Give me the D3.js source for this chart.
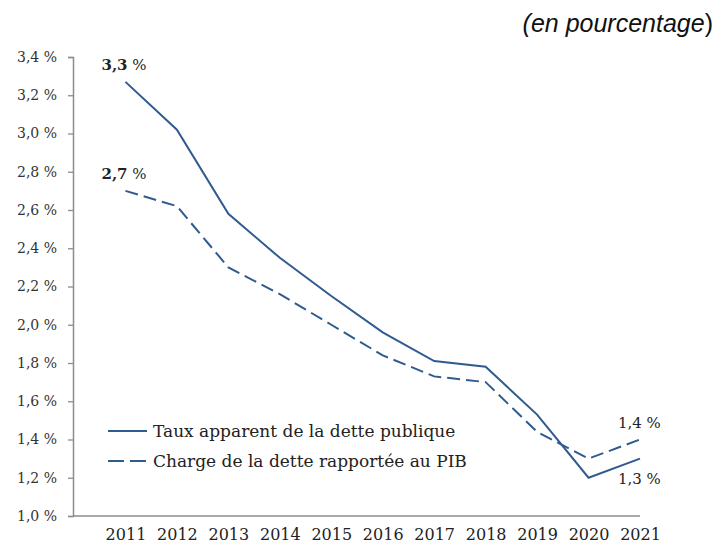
<!DOCTYPE html>
<html>
<head>
<meta charset="utf-8">
<script src="https://cdn.jsdelivr.net/npm/d3@7"></script>
<style>
  body { margin: 0; background: #fff; }
  svg { display: block; }
</style>
</head>
<body>
<div id="chart"></div>
<script>
var w = 716,
  h = 545;

var years = [2011, 2012, 2013, 2014, 2015, 2016, 2017, 2018, 2019, 2020, 2021];
var taux = [3.27, 3.02, 2.58, 2.35, 2.15, 1.96, 1.81, 1.78, 1.53, 1.20, 1.30];
var charge = [2.70, 2.62, 2.30, 2.16, 2.00, 1.84, 1.73, 1.70, 1.44, 1.30, 1.40];
var yTicks = [1.0, 1.2, 1.4, 1.6, 1.8, 2.0, 2.2, 2.4, 2.6, 2.8, 3.0, 3.2, 3.4];
var seriesNames = ["Taux apparent de la dette publique", "Charge de la dette rapportée au PIB"];

var blue = "#2f5b8e";
var serif = "'DejaVu Serif', 'Liberation Serif', serif";

function fmt(v) {
  return v.toFixed(1).replace(".", ",") + " %";
}

var svg = d3.select("#chart").append("svg").attr("width", w).attr("height", h);

var x = d3.scaleLinear().domain([2010, 2021]).range([74, 640]);
var y = d3.scaleLinear().domain([1.0, 3.4]).range([516, 57]);

// y axis
var yAxis = svg.append("g")
  .attr("transform", "translate(73,0)")
  .call(d3.axisLeft(y).tickValues(yTicks).tickSize(5).tickPadding(11).tickFormat(fmt));
yAxis.select(".domain").attr("stroke", "#8c8c8c").attr("stroke-width", 1.5);
yAxis.selectAll(".tick line").attr("stroke", "#8c8c8c").attr("stroke-width", 1.3);
yAxis.selectAll(".tick text").style("font-family", serif).style("font-size", "14px").attr("fill", "#333");

// x axis
var xAxis = svg.append("g")
  .attr("transform", "translate(0,516)")
  .call(d3.axisBottom(x).tickValues(years).tickSize(0).tickPadding(13).tickFormat(d3.format("d")));
xAxis.select(".domain").attr("d", "M73,0H640").attr("stroke", "#8c8c8c").attr("stroke-width", 1.5);
xAxis.selectAll(".tick text").style("font-family", serif).style("font-size", "16px").attr("fill", "#222");

var line = d3.line()
  .x(function (d, i) { return x(years[i]); })
  .y(function (d) { return y(d); });

svg.append("path").datum(taux)
  .attr("d", line).attr("fill", "none").attr("stroke", blue).attr("stroke-width", 2);

svg.append("path").datum(charge)
  .attr("d", line).attr("fill", "none").attr("stroke", blue).attr("stroke-width", 2)
  .attr("stroke-dasharray", "13,6");

// value labels
function label(px, py, v, bold) {
  var t = svg.append("text").attr("x", px).attr("y", py)
    .style("font-family", serif).style("font-size", "15px").attr("fill", "#222");
  var s = fmt(v);
  if (bold) {
    t.append("tspan").style("font-weight", "bold").text(s.replace(" %", ""));
    t.append("tspan").text(" %");
  } else {
    t.text(s);
  }
}
label(x(2011) - 24, y(taux[0]) - 12, 3.3, true);
label(x(2011) - 24, y(charge[0]) - 12, 2.7, true);
label(x(2021) - 22, y(charge[10]) - 12, 1.4, false);
label(x(2021) - 22, y(taux[10]) + 25, 1.3, false);

// legend
var leg = svg.append("g");
seriesNames.forEach(function (name, i) {
  var ly = 431 + i * 30;
  leg.append("line").attr("x1", 108).attr("x2", 147).attr("y1", ly).attr("y2", ly)
    .attr("stroke", blue).attr("stroke-width", 2)
    .attr("stroke-dasharray", i === 1 ? "16,6" : null);
  leg.append("text").attr("x", 153).attr("y", ly + 6)
    .style("font-family", serif).style("font-size", "17px").attr("fill", "#222")
    .text(name);
});

// subtitle
var sub = svg.append("text").attr("x", 713).attr("y", 32).attr("text-anchor", "end")
  .style("font-family", "'Liberation Sans', Arial, sans-serif").style("font-size", "25px")
  .attr("fill", "#111");
sub.append("tspan").style("font-style", "italic").text("(en pourcentage");
sub.append("tspan").text(")");
</script>
</body>
</html>
